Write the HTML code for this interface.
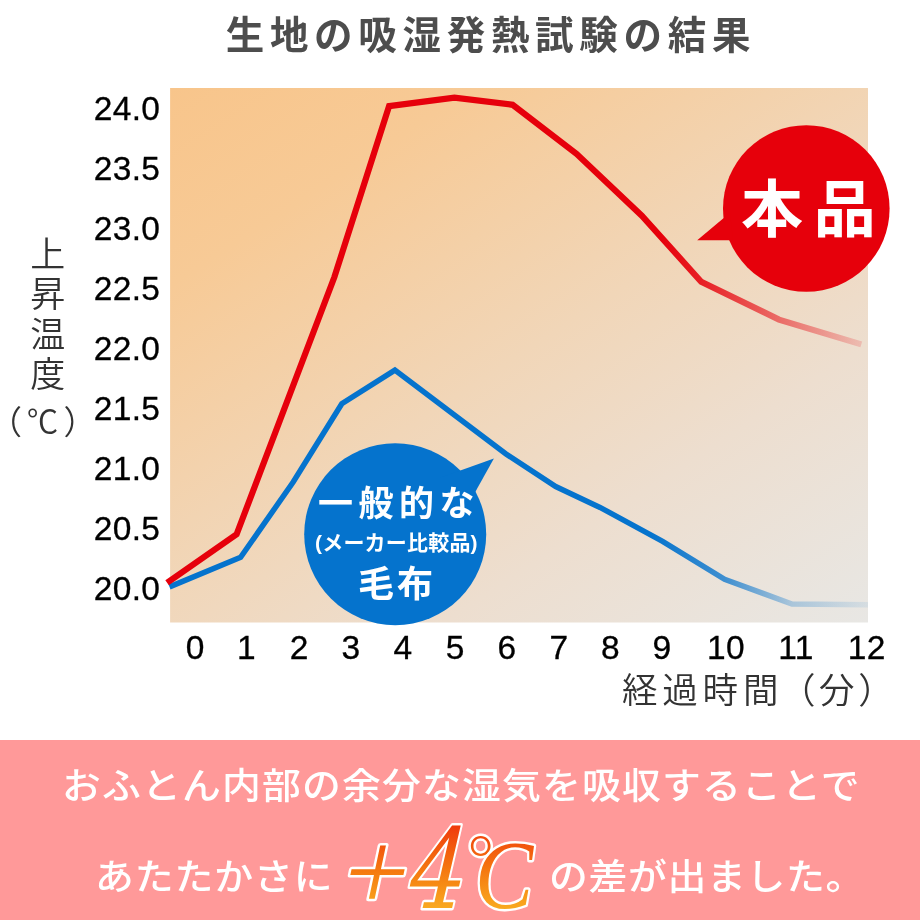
<!DOCTYPE html>
<html lang="ja">
<head>
<meta charset="utf-8">
<title>生地の吸湿発熱試験の結果</title>
<style>
html,body{margin:0;padding:0;background:#fff;}
body{width:920px;height:920px;overflow:hidden;position:relative;}
svg{display:block;position:absolute;left:0;top:0;}
.jp{font-family:"Liberation Sans","Noto Sans CJK JP",sans-serif;}
.num{font-family:"Liberation Sans",sans-serif;fill:#000;font-size:33.5px;letter-spacing:0.3px;stroke:#000;stroke-width:0.3px;}
</style>
</head>
<body>
<svg width="920" height="920" viewBox="0 0 920 920">
  <defs>
    <linearGradient id="bg" x1="0" y1="0" x2="0.914" y2="1.073">
      <stop offset="0" stop-color="#f8c58b"/>
      <stop offset="0.2" stop-color="#f7ca96"/>
      <stop offset="0.5" stop-color="#f1d6b8"/>
      <stop offset="0.72" stop-color="#eddecf"/>
      <stop offset="1" stop-color="#e8e7e4"/>
    </linearGradient>
    <linearGradient id="redfade" gradientUnits="userSpaceOnUse" x1="660" y1="0" x2="862" y2="0">
      <stop offset="0" stop-color="#e6000b" stop-opacity="1"/>
      <stop offset="0.2" stop-color="#e6000b" stop-opacity="0.86"/>
      <stop offset="0.6" stop-color="#e6000b" stop-opacity="0.5"/>
      <stop offset="1" stop-color="#e6000b" stop-opacity="0.15"/>
    </linearGradient>
    <linearGradient id="bluefade" gradientUnits="userSpaceOnUse" x1="650" y1="0" x2="868" y2="0">
      <stop offset="0" stop-color="#0573cd" stop-opacity="1"/>
      <stop offset="0.34" stop-color="#0573cd" stop-opacity="0.75"/>
      <stop offset="0.65" stop-color="#0573cd" stop-opacity="0.28"/>
      <stop offset="1" stop-color="#0573cd" stop-opacity="0.08"/>
    </linearGradient>
    <linearGradient id="org" gradientUnits="userSpaceOnUse" x1="0" y1="825" x2="0" y2="909">
      <stop offset="0" stop-color="#ef3a0c"/>
      <stop offset="0.55" stop-color="#f57a10"/>
      <stop offset="1" stop-color="#f9aa20"/>
    </linearGradient>
    <linearGradient id="orgP" gradientUnits="userSpaceOnUse" x1="0" y1="-85.2" x2="0" y2="-1.2">
      <stop offset="0" stop-color="#ef3a0c"/>
      <stop offset="0.55" stop-color="#f57a10"/>
      <stop offset="1" stop-color="#f9aa20"/>
    </linearGradient>
    <linearGradient id="org4" gradientUnits="userSpaceOnUse" x1="0" y1="-82.5" x2="0" y2="1.5">
      <stop offset="0" stop-color="#ef3a0c"/>
      <stop offset="0.55" stop-color="#f57a10"/>
      <stop offset="1" stop-color="#f9aa20"/>
    </linearGradient>
    <linearGradient id="orgC" gradientUnits="userSpaceOnUse" x1="0" y1="-83" x2="0" y2="1">
      <stop offset="0" stop-color="#ef3a0c"/>
      <stop offset="0.55" stop-color="#f57a10"/>
      <stop offset="1" stop-color="#f9aa20"/>
    </linearGradient>
  </defs>

  <!-- title -->
  <text class="jp" x="225.7" y="48.5" font-size="38.5" font-weight="700" fill="#4d4d4d" letter-spacing="5.7">生地の吸湿発熱試験の結果</text>

  <!-- plot background -->
  <rect x="170.1" y="88" width="697.9" height="534.5" fill="url(#bg)"/>

  <!-- lines -->
  <g fill="none" stroke-linejoin="miter" stroke-linecap="butt">
    <polyline stroke="url(#bluefade)" stroke-width="5.5" points="169.5,586.9 240.6,557.3 293.2,482 341.8,403.8 394.9,370.1 506,454 555.7,486.5 600,507.4 662.6,541.3 724.6,579.3 792,604 868,604.8"/>
    <polyline stroke="url(#redfade)" stroke-width="6.2" points="167.1,582.8 236.6,534.3 334.4,277 389.1,106.1 454.4,97.7 512.6,104.8 576.5,153.8 641.8,215.7 701.2,281.7 779,319.6 861.3,344.4"/>
  </g>

  <!-- red bubble -->
  <g fill="#e6000b">
    <circle cx="806.3" cy="208.5" r="83.3"/>
    <polygon points="697.2,240.3 733,240.3 730,212.8"/>
  </g>
  <text class="jp" x="741" y="231.5" font-size="62" font-weight="700" fill="#fff" letter-spacing="10.8">本品</text>

  <!-- blue bubble -->
  <g fill="#0573cd">
    <circle cx="395.2" cy="534.2" r="91"/>
    <polygon points="493.9,458.4 440,477.8 468,505"/>
  </g>
  <g class="jp" fill="#fff" font-weight="700">
    <text x="318" y="516" font-size="35" letter-spacing="5.5">一般的な</text>
    <text x="315" y="550" font-size="21" letter-spacing="0.2">(メーカー比較品)</text>
    <text x="358" y="596.5" font-size="36" letter-spacing="3">毛布</text>
  </g>

  <!-- y axis labels -->
  <g class="num" text-anchor="end" transform="translate(1.2,0.1)">
    <text x="159" y="120">24.0</text>
    <text x="159" y="180">23.5</text>
    <text x="159" y="240">23.0</text>
    <text x="159" y="300">22.5</text>
    <text x="159" y="360">22.0</text>
    <text x="159" y="420">21.5</text>
    <text x="159" y="480">21.0</text>
    <text x="159" y="540">20.5</text>
    <text x="159" y="600">20.0</text>
  </g>
  <!-- x axis labels -->
  <g class="num" text-anchor="middle">
    <text x="195.2" y="659">0</text>
    <text x="246.4" y="659">1</text>
    <text x="299.1" y="659">2</text>
    <text x="350.9" y="659">3</text>
    <text x="402.9" y="659">4</text>
    <text x="455.3" y="659">5</text>
    <text x="507" y="659">6</text>
    <text x="559" y="659">7</text>
    <text x="610.5" y="659">8</text>
    <text x="662" y="659">9</text>
    <text x="726" y="659">10</text>
    <text x="796" y="659">11</text>
    <text x="866.8" y="659">12</text>
  </g>

  <!-- axis titles -->
  <text class="jp" fill="#333" font-size="35" font-weight="350"><tspan x="30.3" y="266.7">上</tspan><tspan x="30.3" y="306.7">昇</tspan><tspan x="30.3" y="346.7">温</tspan><tspan x="30.3" y="386.7">度</tspan><tspan x="-11" y="433.7" font-size="33">（</tspan><tspan x="26.8" y="433" font-size="31.5">℃</tspan><tspan x="63.5" y="433.7" font-size="33">）</tspan></text>
  <text class="jp" fill="#333" font-size="35.5" font-weight="350"><tspan x="622" y="703" letter-spacing="4.8">経過時間</tspan><tspan x="780" y="703">（</tspan><tspan x="819" y="703">分</tspan><tspan x="858.3" y="703">）</tspan></text>

  <!-- banner -->
  <rect x="0" y="740" width="920" height="180" fill="#ff9999"/>
  <g class="jp" fill="#fff" font-weight="500" font-size="36">
    <text transform="translate(62,799.3) scale(1.08,1)" letter-spacing="1.05">おふとん内部の余分な湿気を吸収することで</text>
    <text transform="translate(95,890.3) scale(1.08,1)" letter-spacing="0.8">あたたかさに</text>
    <text transform="translate(549,890.3) scale(1.08,1)" letter-spacing="0.6">の差が出ました。</text>
  </g>
  <g stroke="#fff" stroke-width="5" stroke-linejoin="round" paint-order="stroke fill">
    <text transform="translate(337.3,910.2) skewX(-12)" fill="url(#orgP)" font-family="'Liberation Serif',serif" font-size="114">+</text>
    <text transform="translate(402,907.5) skewX(-13) scale(0.80,1)" fill="url(#org4)" font-family="'DejaVu Serif',serif" font-size="111">4</text>
    <text x="467.7" y="891.8" fill="url(#org)" font-size="76" font-weight="300" font-family="'Noto Serif CJK SC','Noto Serif CJK JP',serif">°</text>
    <text transform="translate(475,908) scale(0.89,1)" fill="url(#orgC)" font-size="98" font-style="italic" font-family="'Liberation Serif',serif">C</text>
  </g>
</svg>
</body>
</html>
